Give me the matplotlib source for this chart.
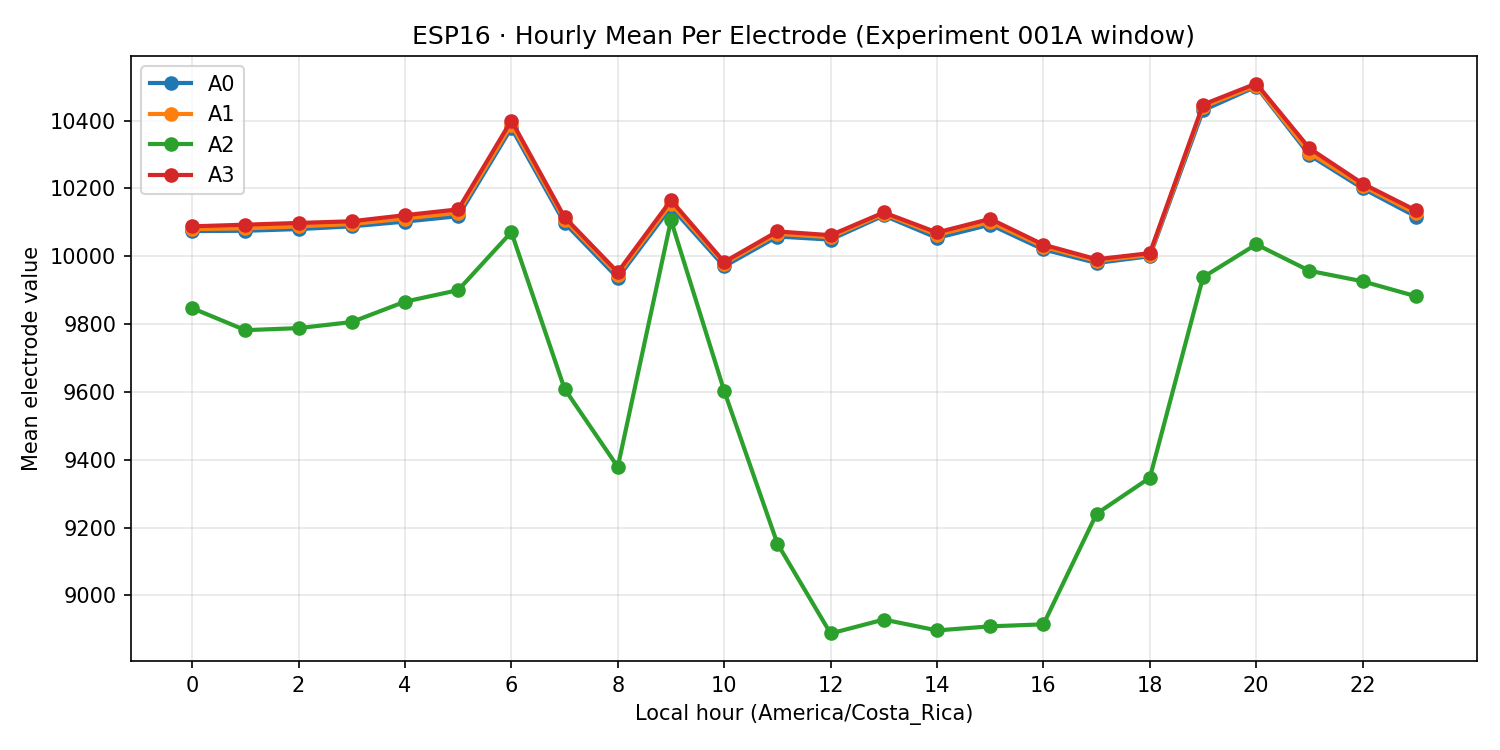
import matplotlib
matplotlib.use("Agg")
import matplotlib.pyplot as plt

hours = list(range(24))

a0 = [10074, 10075, 10080, 10088, 10102, 10118, 10378, 10098, 9936, 10145, 9970,
      10058, 10049, 10120, 10054, 10093, 10020, 9980, 10000, 10430, 10500, 10298, 10200, 10117]
a1 = [10080, 10082, 10088, 10095, 10111, 10128, 10388, 10108, 9945, 10155, 9978,
      10066, 10056, 10125, 10063, 10101, 10028, 9986, 10004, 10440, 10503, 10305, 10207, 10126]
a2 = [9847, 9782, 9788, 9806, 9866, 9900, 10071, 9609, 9379, 10106, 9603,
      9153, 8888, 8929, 8897, 8909, 8915, 9241, 9347, 9938, 10035, 9957, 9926, 9882]
a3 = [10088, 10093, 10098, 10103, 10121, 10138, 10400, 10115, 9953, 10165, 9983,
      10073, 10062, 10129, 10070, 10110, 10034, 9991, 10009, 10447, 10509, 10318, 10214, 10135]

series = [("A0", a0), ("A1", a1), ("A2", a2), ("A3", a3)]

fig, ax = plt.subplots(figsize=(10, 5), dpi=150)
for name, vals in series:
    ax.plot(hours, vals, marker="o", linewidth=2, markersize=6, label=name)

ax.set_xticks(range(0, 24, 2))
ax.set_xlabel("Local hour (America/Costa_Rica)")
ax.set_ylabel("Mean electrode value")
ax.set_title("ESP16 · Hourly Mean Per Electrode (Experiment 001A window)")
ax.grid(True, alpha=0.3)
ax.legend(loc="upper left")
fig.subplots_adjust(left=0.0873, right=0.9847, top=0.9253, bottom=0.1187)
fig.savefig("out.png")
